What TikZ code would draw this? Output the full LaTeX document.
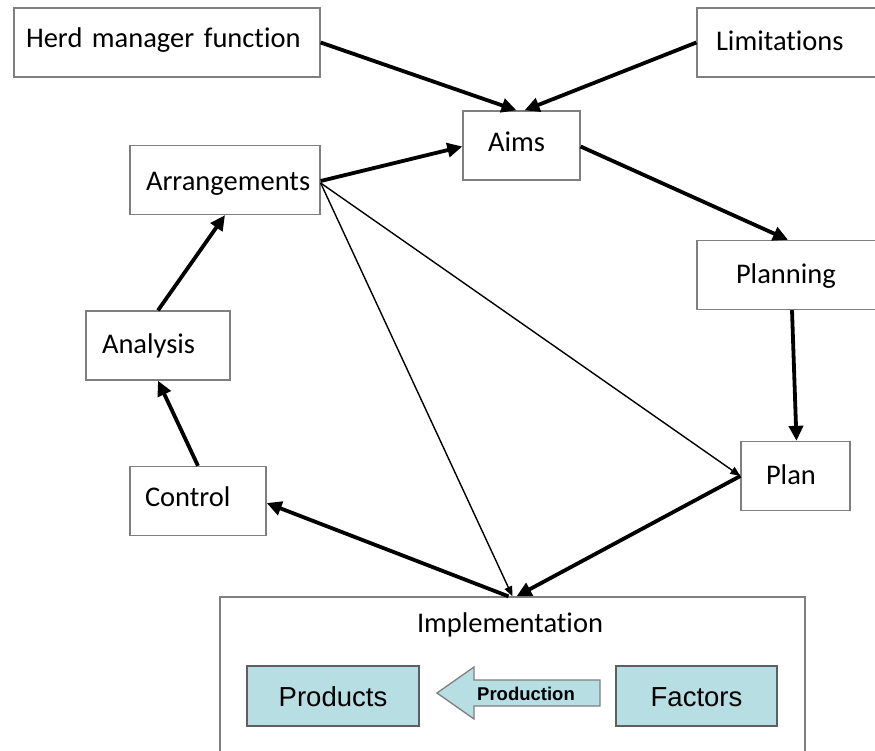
\documentclass[tikz,border=0pt]{standalone}
\usepackage{fontspec}
\setmainfont{Carlito}[Ligatures={NoCommon}]
\newfontfamily\arialf{Liberation Sans}
\usetikzlibrary{arrows.meta,calc}
\definecolor{boxgray}{HTML}{7F7F7F}
\definecolor{darkgray2}{HTML}{5F5F5F}
\definecolor{tealfill}{HTML}{B7DEE3}
\begin{document}
\begin{tikzpicture}[x=1pt,y=-1pt,
  box/.style={draw=boxgray, line width=1.3pt, rectangle, inner xsep=0pt, inner ysep=0pt,
    align=left, minimum height=69pt, font=\fontsize{28.5}{32}\selectfont,
    text height=24pt, text depth=8pt},
  title/.style={inner sep=0pt, font=\fontsize{28.5}{32}\selectfont, text height=20pt, text depth=12pt},
  tealbox/.style={draw=darkgray2, line width=1.3pt, fill=tealfill, rectangle, inner sep=0pt,
    minimum height=60pt, font=\arialf\fontsize{27.5}{30}\selectfont, text height=20pt, text depth=0pt},
  thickarrow/.style={line width=3.8pt, -{Triangle[length=15pt,width=14pt]}},
  thinarrow/.style={line width=1.4pt, -{Triangle[length=10pt,width=8pt]}},
]
\useasboundingbox (0,0) rectangle (875,750);
\clip (0,0) rectangle (875,750);
\fill[white] (0,0) rectangle (875,750);

% boxes
\node[box, text width=306pt, text height=21pt, text depth=11pt] (herd) at (167,42.5) {\hspace*{12pt}Herd manager function};
\node[box, text width=188pt] (lim) at (791,42.5) {\hspace*{19pt}Limitations};
\node[box, text width=117pt, text height=22pt, text depth=10pt] (aims) at (521.5,145.5) {\hspace*{25pt}Aims};
\node[box, text width=190pt, text height=26pt, text depth=6pt] (arr) at (225,180) {\hspace*{16pt}Arrangements};
\node[box, text width=188pt] (planning) at (791,275) {\hspace*{39pt}Planning};
\node[box, text width=144pt] (analysis) at (158,345.5) {\hspace*{16pt}Analysis};
\node[box, text width=109pt] (plan) at (795.5,476) {\hspace*{25pt}Plan};
\node[box, text width=136pt, text height=21pt, text depth=11pt] (control) at (198,501) {\hspace*{15pt}Control};

% implementation
\node[draw=boxgray, line width=1.3pt, rectangle, inner sep=0pt, minimum width=585pt, minimum height=173pt] (impl) at (512.5,683.5) {};
\node[title] (impltitle) at (510,628.5) {Implementation};
\node[tealbox, minimum width=172pt] (products) at (333,696) {Products};
\node[tealbox, minimum width=161pt] (factors) at (696.5,696) {Factors};
\filldraw[draw=boxgray, line width=1.3pt, fill=tealfill, line join=miter]
  (600,680) -- (474,680) -- (474,667) -- (437,693) -- (474,719) -- (474,706) -- (600,706) -- cycle;
\node[inner sep=0pt, font=\arialf\bfseries\fontsize{18.5}{20}\selectfont, text height=13pt, text depth=0pt] (production) at (526,693.5) {Production};

% connectors
\draw[thickarrow] (herd.east) -- ([xshift=-5pt]aims.north);
\draw[thickarrow] (lim.west) -- ([xshift=3pt]aims.north);
\draw[thickarrow] ([yshift=-1pt]arr.east) -- ([yshift=-1pt]aims.west);
\draw[thickarrow] ([yshift=-1pt]aims.east) -- ([xshift=-3pt]planning.north);
\draw[thickarrow] ([xshift=1pt]planning.south) -- ([xshift=1pt]plan.north);
\draw[thickarrow] (plan.west) -- ([xshift=4pt]impl.north);
\draw[thickarrow] ([xshift=-4pt]impl.north) -- ([yshift=-2pt]control.east);
\draw[thinarrow] ([yshift=-3pt]arr.east) -- ([xshift=0pt]impl.north);
\draw[thinarrow] ([yshift=-3pt]arr.east) -- (plan.west);
\draw[thickarrow] (control.north) -- (analysis.south);
\draw[thickarrow] (analysis.north) -- (arr.south);
\end{tikzpicture}
\end{document}
